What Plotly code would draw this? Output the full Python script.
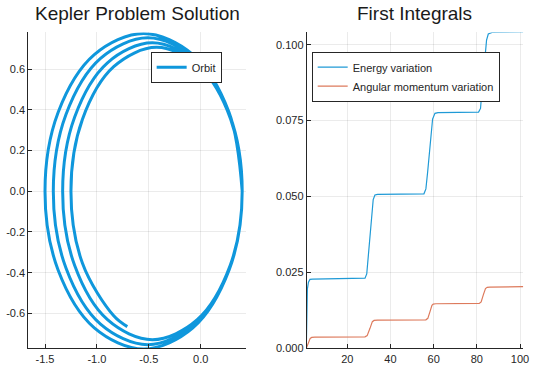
import plotly.graph_objects as go

# ---- Orbit (one point every 30 degrees of each loop) ----
orbit_x = [
    0.400, 0.273, -0.075, -0.550, -1.025, -1.373, -1.500, -1.373, -1.025, -0.550, -0.075, 0.273,
    0.400, 0.278, -0.055, -0.510, -0.965, -1.298, -1.420, -1.298, -0.965, -0.510, -0.055, 0.278,
    0.400, 0.284, -0.033, -0.465, -0.898, -1.214, -1.330, -1.214, -0.898, -0.465, -0.033, 0.284,
    0.400, 0.289, -0.013, -0.425, -0.838, -1.139, -1.250, -1.139, -0.838, -0.707,
]
orbit_y = [
    0.000, 0.388, 0.671, 0.775, 0.671, 0.388, 0.000, -0.388, -0.671, -0.775, -0.671, -0.388,
    0.000, 0.377, 0.653, 0.754, 0.653, 0.377, 0.000, -0.377, -0.653, -0.754, -0.653, -0.377,
    0.000, 0.365, 0.631, 0.729, 0.631, 0.365, 0.000, -0.365, -0.631, -0.729, -0.631, -0.365,
    0.000, 0.354, 0.612, 0.707, 0.612, 0.354, 0.000, -0.354, -0.612, -0.665,
]

# ---- First integrals ----
t_energy = [1.0, 1.25, 1.5, 2.0, 2.7, 4.0, 28.2, 29.0, 29.8, 30.5, 31.2, 32.0, 32.8, 34.0,
            55.5, 56.4, 57.2, 58.0, 58.8, 59.5, 60.6, 62.0,
            80.8, 81.7, 82.4, 83.1, 83.8, 84.5, 85.3, 87.0, 101.5]
energy_variation = [0.0, 0.012, 0.0195, 0.0218, 0.0227, 0.0228, 0.0231, 0.0245, 0.031, 0.038,
                    0.045, 0.049, 0.0505, 0.0507,
                    0.0509, 0.0525, 0.058, 0.0642, 0.071, 0.0755, 0.0774, 0.0776,
                    0.0778, 0.079, 0.085, 0.091, 0.097, 0.1015, 0.1035, 0.104, 0.1042]

t_angmom = [1.0, 2.0, 2.8, 3.5, 5.0, 28.2, 29.2, 30.5, 31.6, 32.4, 34.0,
            56.4, 57.3, 58.3, 59.2, 59.8, 61.0,
            81.1, 82.0, 83.0, 84.0, 84.8, 86.0, 101.5]
angmom_variation = [0.0, 0.0022, 0.0033, 0.0036, 0.0037, 0.0038, 0.0042, 0.0066, 0.0088, 0.0092, 0.0093,
                    0.0094, 0.0099, 0.0121, 0.0142, 0.0146, 0.0147,
                    0.0148, 0.0153, 0.0176, 0.0197, 0.0201, 0.0202, 0.0203]

# ---- Ticks ----
left_xticks = [-1.5, -1.0, -0.5, 0.0]
left_xticklabels = ["-1.5", "-1.0", "-0.5", "0.0"]
left_yticks = [-0.6, -0.4, -0.2, 0.0, 0.2, 0.4, 0.6]
left_yticklabels = ["-0.6", "-0.4", "-0.2", "0.0", "0.2", "0.4", "0.6"]
right_xticks = [20, 40, 60, 80, 100]
right_xticklabels = ["20", "40", "60", "80", "100"]
right_yticks = [0.0, 0.025, 0.05, 0.075, 0.1]
right_yticklabels = ["0.000", "0.025", "0.050", "0.075", "0.100"]

FONT = "Liberation Sans, Arial, Helvetica, sans-serif"
INK = "#262626"

fig = go.Figure()
fig.add_trace(go.Scatter(x=orbit_x, y=orbit_y, mode="lines", name="Orbit", showlegend=True,
                         line=dict(color="#0f97dc", width=3, shape="spline"),
                         xaxis="x", yaxis="y", legend="legend"))
fig.add_trace(go.Scatter(x=t_energy, y=energy_variation, mode="lines", name="Energy variation",
                         showlegend=True, line=dict(color="#1f9ad6", width=1.2),
                         xaxis="x2", yaxis="y2", legend="legend2"))
fig.add_trace(go.Scatter(x=t_angmom, y=angmom_variation, mode="lines", name="Angular momentum variation",
                         showlegend=True, line=dict(color="#dd7a5c", width=1.2),
                         xaxis="x2", yaxis="y2", legend="legend2"))

ax = dict(showline=True, linecolor=INK, linewidth=1, ticks="inside", ticklen=4, tickcolor=INK,
          showgrid=True, gridcolor="rgba(0,0,0,0.08)", gridwidth=1, zeroline=False,
          tickfont=dict(size=11, color=INK, family=FONT), automargin=False, tickmode="array")

Y0, Y1 = 0.0533, 0.9117
fig.update_layout(
    width=540, height=368, margin=dict(l=0, r=0, t=0, b=0),
    paper_bgcolor="white", plot_bgcolor="white", showlegend=True,
    font=dict(family=FONT, color=INK),
    xaxis=dict(domain=[0.0524, 0.4556], range=[-1.661, 0.437], anchor="y",
               tickvals=left_xticks, ticktext=left_xticklabels, **ax),
    yaxis=dict(domain=[Y0, Y1], range=[-0.772, 0.780], anchor="x",
               tickvals=left_yticks, ticktext=left_yticklabels, **ax),
    xaxis2=dict(domain=[0.568, 0.969], range=[1.2, 101.5], anchor="y2",
                tickvals=right_xticks, ticktext=right_xticklabels, **ax),
    yaxis2=dict(domain=[Y0, Y1], range=[0.0, 0.104], anchor="x2",
                tickvals=right_yticks, ticktext=right_yticklabels, **ax),
    legend=dict(x=0.279, y=0.8595, xanchor="left", yanchor="top", bgcolor="white",
                bordercolor=INK, borderwidth=1, font=dict(size=11, color=INK, family=FONT),
                visible=True),
    legend2=dict(x=0.5772, y=0.8595, xanchor="left", yanchor="top", bgcolor="white",
                 bordercolor=INK, borderwidth=1, font=dict(size=11, color=INK, family=FONT),
                 visible=True),
    annotations=[
        dict(text="Kepler Problem Solution", x=0.254, y=0.962, xref="paper", yref="paper",
             xanchor="center", yanchor="middle", showarrow=False,
             font=dict(size=19, color="#1a1a1a", family=FONT)),
        dict(text="First Integrals", x=0.7685, y=0.962, xref="paper", yref="paper",
             xanchor="center", yanchor="middle", showarrow=False,
             font=dict(size=19, color="#1a1a1a", family=FONT)),
    ],
)

fig.write_html("out.html", config={"displayModeBar": False},
               post_script="document.body.style.margin='0';")
